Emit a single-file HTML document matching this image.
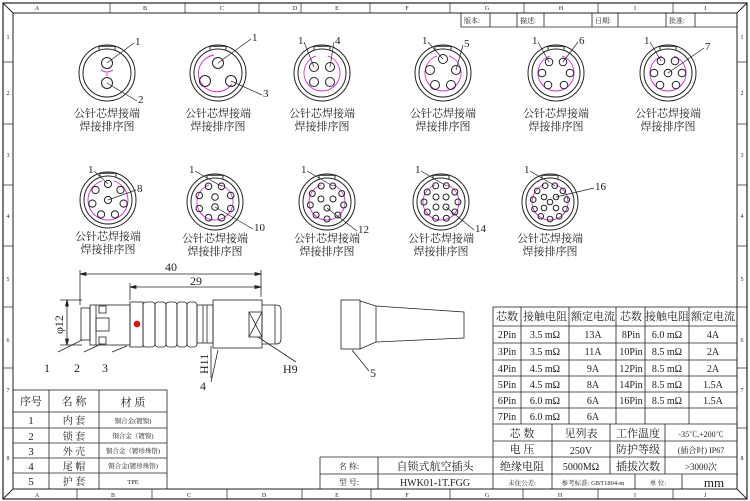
<!DOCTYPE html>
<html><head><meta charset="utf-8"><style>
html,body{margin:0;padding:0;background:#fff}
svg{display:block}
text{font-family:"Liberation Serif","Noto Serif CJK SC","Noto Sans CJK SC",serif;fill:#222}
.s{font-size:6px}
</style></head><body>
<svg id="sv" width="750" height="501" viewBox="0 0 750 501" xmlns="http://www.w3.org/2000/svg" stroke="#222" fill="none" stroke-width="1">
<rect x="3" y="3" width="744" height="496" stroke-width="1.2"/>
<rect x="13" y="13" width="724" height="476"/>
<line x1="3" y1="3" x2="13" y2="13"/><line x1="747" y1="3" x2="737" y2="13"/>
<line x1="3" y1="499" x2="13" y2="489"/><line x1="747" y1="499" x2="737" y2="489"/>
<g stroke-width="0.7">
<line x1="110" y1="3" x2="110" y2="13"/><line x1="185" y1="3" x2="185" y2="13"/><line x1="259" y1="3" x2="259" y2="13"/><line x1="301" y1="3" x2="301" y2="13"/><line x1="370" y1="3" x2="370" y2="13"/><line x1="450" y1="3" x2="450" y2="13"/><line x1="524" y1="3" x2="524" y2="13"/><line x1="598" y1="3" x2="598" y2="13"/><line x1="673" y1="3" x2="673" y2="13"/>
<line x1="77" y1="489" x2="77" y2="499"/><line x1="152" y1="489" x2="152" y2="499"/><line x1="227" y1="489" x2="227" y2="499"/><line x1="302" y1="489" x2="302" y2="499"/><line x1="371" y1="489" x2="371" y2="499"/><line x1="450" y1="489" x2="450" y2="499"/><line x1="523" y1="489" x2="523" y2="499"/><line x1="598" y1="489" x2="598" y2="499"/><line x1="673" y1="489" x2="673" y2="499"/>
<line x1="3" y1="62" x2="13" y2="62"/><line x1="3" y1="124" x2="13" y2="124"/><line x1="3" y1="185" x2="13" y2="185"/><line x1="3" y1="246" x2="13" y2="246"/><line x1="3" y1="307" x2="13" y2="307"/><line x1="3" y1="368" x2="13" y2="368"/><line x1="3" y1="428" x2="13" y2="428"/>
<line x1="737" y1="62" x2="747" y2="62"/><line x1="737" y1="124" x2="747" y2="124"/><line x1="737" y1="185" x2="747" y2="185"/><line x1="737" y1="246" x2="747" y2="246"/><line x1="737" y1="307" x2="747" y2="307"/><line x1="737" y1="368" x2="747" y2="368"/><line x1="737" y1="428" x2="747" y2="428"/>
</g>
<g stroke="none" class="s" text-anchor="middle">
<text x="37" y="10" class="s">A</text><text x="145" y="10" class="s">B</text><text x="222" y="10" class="s">C</text><text x="295" y="10" class="s">D</text><text x="337" y="10" class="s">E</text><text x="407" y="10" class="s">F</text><text x="487" y="10" class="s">G</text><text x="561" y="10" class="s">H</text><text x="635" y="10" class="s">I</text><text x="705" y="10" class="s">J</text>
<text x="37" y="497" class="s">A</text><text x="113" y="497" class="s">B</text><text x="189" y="497" class="s">C</text><text x="264" y="497" class="s">D</text><text x="337" y="497" class="s">E</text><text x="407" y="497" class="s">F</text><text x="487" y="497" class="s">G</text><text x="560" y="497" class="s">H</text><text x="635" y="497" class="s">I</text><text x="705" y="497" class="s">J</text>
<text x="8" y="39" class="s">1</text><text x="8" y="95" class="s">2</text><text x="8" y="157" class="s">3</text><text x="8" y="218" class="s">4</text><text x="8" y="281" class="s">5</text><text x="8" y="342" class="s">6</text><text x="8" y="392" class="s">7</text><text x="8" y="460" class="s">8</text>
<text x="742" y="39" class="s">1</text><text x="742" y="95" class="s">2</text><text x="742" y="157" class="s">3</text><text x="742" y="218" class="s">4</text><text x="742" y="281" class="s">5</text><text x="742" y="342" class="s">6</text><text x="742" y="392" class="s">7</text><text x="742" y="460" class="s">8</text>
</g>
<g stroke-width="0.8"><path d="M461 13V27H737M490 13V27M517 13V27M544 13V27M592 13V27M618 13V27M666 13V27M695 13V27"/></g>
<g stroke="none" font-size="7"><text x="464" y="23">版本:</text><text x="520" y="23">描述:</text><text x="595" y="23">日期:</text><text x="669" y="23">批准:</text></g>

<g id="conn"></g>

<g stroke-width="0.8">
<path d="M80 305V270M130 300V283M261 297V270"/>
<line x1="80" y1="274" x2="261" y2="274"/><line x1="130" y1="287" x2="261" y2="287"/>
<path d="M80 274l6-1.5v3zM261 274l-6-1.5v3zM130 287l6-1.5v3zM261 287l-6-1.5v3z" fill="#222"/>
<line x1="60" y1="300" x2="82" y2="300"/><line x1="60" y1="345" x2="82" y2="345"/>
<line x1="67" y1="300" x2="67" y2="345"/>
<path d="M67 300l-1.5 6h3zM67 345l-1.5-6h3z" fill="#222"/>
<rect x="81" y="308" width="9" height="32"/>
<rect x="90" y="305" width="40" height="40"/>
<rect x="99" y="306" width="7" height="7"/><rect x="99" y="337" width="7" height="7"/><rect x="96" y="318" width="13" height="13"/>
<line x1="96" y1="305" x2="96" y2="345"/>
<rect x="130" y="302" width="13" height="45"/>
<rect x="143" y="302" width="12" height="45" rx="3"/><rect x="155" y="302" width="11" height="45" rx="3"/><rect x="166" y="302" width="11" height="45" rx="3"/><rect x="177" y="302" width="10" height="45" rx="3"/><rect x="187" y="302" width="10" height="45" rx="3"/>
<rect x="197" y="305" width="16" height="38"/><line x1="203" y1="305" x2="203" y2="343"/><line x1="207" y1="305" x2="207" y2="343"/>
<rect x="213" y="300" width="49" height="48"/>
<rect x="249" y="312" width="13" height="25"/><path d="M249 312L262 337M262 312L249 337"/>
<path d="M262 305H276Q281 305 281 310V339Q281 344 276 344H262"/>
<line x1="275" y1="305" x2="275" y2="344"/>
<path d="M58 352L82 340M84 352L101 344M112 352L127 346M211 346V378M211 382L218 350M296 362L258 337"/>
<rect x="341" y="300" width="19" height="49"/>
<path d="M360 301L376 306L464 312V338L376 342L360 349M376 306V342"/>
<path d="M369 371L352 350"/>
</g>
<circle cx="137" cy="324" r="3.3" fill="#e01010" stroke="none"/>
<g stroke="none" font-size="12">
<text x="165" y="271">40</text><text x="190" y="285">29</text>
<text transform="translate(63 334) rotate(-90)">φ12</text>
<text transform="translate(208 374) rotate(-90)">H11</text>
<text x="283" y="373">H9</text>
<text x="44" y="372">1</text><text x="74" y="372">2</text><text x="102" y="372">3</text><text x="200" y="390">4</text><text x="370" y="377">5</text>
</g>
<g stroke-width="0.8">
<rect x="13" y="390" width="154" height="99"/>
<path d="M13 412H167M13 428H167M13 443H167M13 458H167M13 473H167M49 390V489M99 390V489"/>
</g>
<g stroke="none" text-anchor="middle">
<g font-size="11"><text x="31" y="405">序号</text><text x="74" y="405">名 称</text><text x="133" y="406">材 质</text>
<text x="31" y="424">1</text><text x="31" y="440">2</text><text x="31" y="455">3</text><text x="31" y="470">4</text><text x="31" y="485">5</text>
<text x="74" y="424" font-size="10">内 套</text><text x="74" y="440" font-size="10">锁 套</text><text x="74" y="455" font-size="10">外 壳</text><text x="74" y="470" font-size="10">尾 帽</text><text x="74" y="485" font-size="10">护 套</text></g>
<g font-size="6.5"><text x="133" y="423">铜合金(镀镍)</text><text x="133" y="438">铜合金（镀镍)</text><text x="133" y="453">铜合金（镀珍珠铬)</text><text x="133" y="468">铜合金(镀珍珠铬)</text><text x="133" y="484">TPE</text></g>
</g>
<g stroke-width="0.8">
<path d="M320 457H493M320 474H738M320 457V489M378 457V489"/>
<rect x="493" y="307" width="244" height="182"/>
<path d="M493 326H737M493 343H737M493 360H737M493 376H737M493 392H737M493 408H737M493 424H737M493 441H737M493 457H737"/>
<path d="M521 307V424M569 307V424M616 307V424M645 307V424M689 307V424"/>
<path d="M552 424V474M610 424V474M665 424V474M552 474V489M635 474V489M682 474V489"/>
</g>
<g stroke="none" text-anchor="middle">
<g font-size="8"><text x="349" y="469">名  称:</text><text x="349" y="485">型  号:</text></g>
<text x="435" y="470" font-size="11">自锁式航空插头</text>
<text x="435" y="486" font-size="10">HWK01-1T.FGG</text>
<g font-size="11"><text x="507" y="320">芯数</text><text x="545" y="320">接触电阻</text><text x="593" y="320">额定电流</text><text x="631" y="320">芯数</text><text x="667" y="320">接触电阻</text><text x="713" y="320">额定电流</text></g>
<g font-size="10">
<text x="507" y="338">2Pin</text><text x="545" y="338">3.5 mΩ</text><text x="593" y="338">13A</text><text x="631" y="338">8Pin</text><text x="667" y="338">6.0 mΩ</text><text x="713" y="338">4A</text>
<text x="507" y="355">3Pin</text><text x="545" y="355">3.5 mΩ</text><text x="593" y="355">11A</text><text x="631" y="355">10Pin</text><text x="667" y="355">8.5 mΩ</text><text x="713" y="355">2A</text>
<text x="507" y="372">4Pin</text><text x="545" y="372">4.5 mΩ</text><text x="593" y="372">9A</text><text x="631" y="372">12Pin</text><text x="667" y="372">8.5 mΩ</text><text x="713" y="372">2A</text>
<text x="507" y="388">5Pin</text><text x="545" y="388">4.5 mΩ</text><text x="593" y="388">8A</text><text x="631" y="388">14Pin</text><text x="667" y="388">8.5 mΩ</text><text x="713" y="388">1.5A</text>
<text x="507" y="404">6Pin</text><text x="545" y="404">6.0 mΩ</text><text x="593" y="404">6A</text><text x="631" y="404">16Pin</text><text x="667" y="404">8.5 mΩ</text><text x="713" y="404">1.5A</text>
<text x="507" y="420">7Pin</text><text x="545" y="420">6.0 mΩ</text><text x="593" y="420">6A</text>
</g>
<g font-size="11"><text x="522" y="437">芯 数</text><text x="581" y="437">见列表</text><text x="638" y="437">工作温度</text>
<text x="522" y="453">电 压</text><text x="581" y="454" font-size="10">250V</text><text x="638" y="453">防护等级</text>
<text x="522" y="470">绝缘电阻</text><text x="581" y="470" font-size="10">5000MΩ</text><text x="638" y="470">插拔次数</text></g>
<g font-size="8"><text x="701" y="437">-35℃,+200℃</text><text x="701" y="453">(插合时) IP67</text><text x="701" y="470" font-size="9">&gt;3000次</text></g>
<g font-size="6.5"><text x="522" y="485">未住公差:</text><text x="593" y="485">参考标准: GBT1804-m</text><text x="658" y="485">单 位:</text></g>
<text x="714" y="487" font-size="13" font-family="Liberation Sans">mm</text>
</g>
</svg>
<script>
(function(){
var g=document.getElementById('conn'),h='';
function C(cx,cy,pins,pr,labels,arc){
 h+='<g transform="translate('+cx+' '+cy+')">';
 h+='<circle r="28"/><circle r="24"/><path d="M-8 -23.5V-27M8 -23.5V-27M-8 -26.8H8" />';
 if(arc)h+='<path d="'+arc+'" stroke="#d020d0" stroke-width="0.9"/>';
 pins.forEach(function(p){h+='<circle cx="'+p[0]+'" cy="'+p[1]+'" r="'+pr+'"/>';});
 labels.forEach(function(l){var p=pins[l[3]];h+='<line x1="'+l[0]+'" y1="'+(l[1]+2)+'" x2="'+p[0]+'" y2="'+p[1]+'" stroke-width="0.7"/>';
  h+='<text x="'+(l[0]+(l[0]>0?1:-6))+'" y="'+(l[1]+4)+'" stroke="none" font-size="11">'+l[2]+'</text>';});
 h+='<text x="0" y="'+(cy<100?44:40)+'" stroke="none" font-size="11" text-anchor="middle">公针芯焊接端</text>';
 h+='<text x="0" y="'+(cy<100?57:53)+'" stroke="none" font-size="11" text-anchor="middle">焊接排序图</text></g>';
}
function ring(n,r,off){var a=[];for(var i=0;i<n;i++){var t=-Math.PI/2+(i+off)*2*Math.PI/n;a.push([+(r*Math.cos(t)).toFixed(1),+(r*Math.sin(t)).toFixed(1)]);}return a;}
var sp='M-6 -17A18 18 0 1 0 6 -17';
C(107,73,[[0,-10],[0,10]],5.5,[[27,-32,'1',0],[30,26,'2',1]],'M-6 -3Q0 1 6 -3M0 0V3');
C(218,73,[[0,-10],[-13,8],[13,8]],5.5,[[33,-36,'1',0],[44,20,'3',2]],'M-4 -18A18.5 18.5 0 1 0 14 11');
C(322,73,[[-8,-6],[8,-6],[-8,9],[8,9]],4.5,[[-18,-33,'1',0],[12,-33,'4',1]],sp);
C(443,73,[[0,-14],[-13,-3],[13,-3],[-8,12],[8,12]],4.5,[[-15,-33,'1',0],[20,-30,'5',2]],sp);
C(556,73,[[-7,-11],[7,-11],[-14,0],[14,0],[-8,12],[8,12]],3.8,[[-18,-33,'1',0],[22,-33,'6',1]],sp);
C(668,73,[[-7,-12],[7,-12],[-14,0],[14,0],[-8,12],[8,12],[0,0]],3.8,[[-18,-33,'1',0],[36,-27,'7',6]],sp);
C(108,200,ring(7,16,0).concat([[0,0]]),3.6,[[-14,-31,'1',0],[28,-12,'8',7]],'M-6 -19A20 20 0 1 0 6 -19');
C(215,202,ring(8,17,0.5).concat([[0,-5],[0,5]]),3.3,[[-20,-33,'1',0],[38,25,'10',9]],sp);
C(327,202,ring(9,17,0.5).concat([[-6,-3],[6,-3],[0,6]]),3,[[-20,-33,'1',0],[30,27,'12',11]],sp);
C(441,202,ring(10,17,0.5).concat([[-5,-5],[5,-5],[-5,5],[5,5]]),3,[[-20,-33,'1',0],[33,26,'14',13]],sp);
C(550,202,ring(11,17,0.5).concat([[-6,-5],[6,-5],[0,0],[-6,6],[6,6]]),2.8,[[-20,-33,'1',0],[44,-16,'16',12]],sp);
g.innerHTML=h;
})();
</script>
</body></html>
